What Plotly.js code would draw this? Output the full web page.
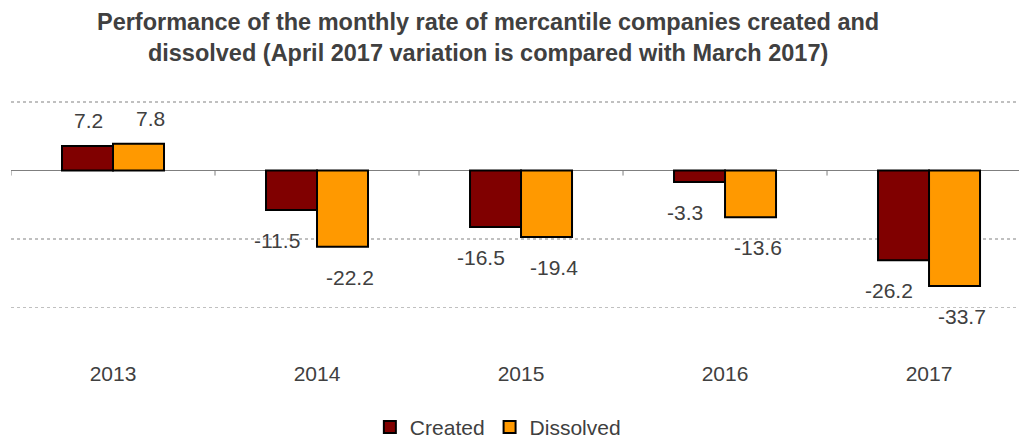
<!DOCTYPE html>
<html>
<head>
<meta charset="utf-8">
<script src="https://cdn.plot.ly/plotly-3.0.1.min.js"></script>
<style>html,body{margin:0;padding:0;background:#fff;}#chart{width:1019px;height:439px;}</style>
</head>
<body>
<div id="chart"></div>
<script>
const years = ["2013", "2014", "2015", "2016", "2017"];
const created = [7.2, -11.5, -16.5, -3.3, -26.2];
const dissolved = [7.8, -22.2, -19.4, -13.6, -33.7];
const gridVals = [20, -20, -40];

const FONT = "Liberation Sans, Arial, sans-serif";
const TXT = "#404040";

const traces = [
  {type: "bar", name: "Created", x: years, y: created,
   marker: {color: "#800000", line: {color: "#000", width: 2}}},
  {type: "bar", name: "Dissolved", x: years, y: dissolved,
   marker: {color: "#FF9900", line: {color: "#000", width: 2}}}
];

// label offsets relative to category center (pixels): [positive, negative]
const labelShift = {Created: [-25, -40], Dissolved: [37, 33]};

const annotations = [];
[["Created", created], ["Dissolved", dissolved]].forEach(([name, vals]) => {
  vals.forEach((v, i) => {
    annotations.push({
      x: i, y: v, xref: "x", yref: "y",
      text: v.toFixed(1), showarrow: false,
      xshift: v >= 0 ? labelShift[name][0] : labelShift[name][1],
      yshift: v >= 0 ? 12 : -17,
      yanchor: v >= 0 ? "bottom" : "top",
      font: {family: FONT, size: 21, color: TXT}
    });
  });
});

const shapes = [];
for (let i = 0; i <= years.length; i++) {
  shapes.push({type: "line", xref: "x", yref: "y", x0: i - 0.5, x1: i - 0.5,
    ysizemode: "pixel", yanchor: 0, y0: 0, y1: -5,
    line: {color: "#7f7f7f", width: 1}});
}

const layout = {
  width: 1019, height: 439,
  margin: {l: 11, r: 0, t: 100, b: 80},
  paper_bgcolor: "#fff", plot_bgcolor: "#fff",
  font: {family: FONT, size: 21, color: TXT},
  title: {text: "<b>Performance of the monthly rate of mercantile companies created and<br>dissolved (April 2017 variation is compared with March 2017)</b>",
    x: 0.479, xanchor: "center", yref: "paper", y: 1, yanchor: "bottom",
    pad: {b: 70}, automargin: false,
    font: {family: FONT, size: 23.5, color: TXT}},
  barmode: "group", bargap: 0.5, bargroupgap: 0,
  xaxis: {type: "category", range: [-0.5, 4.441], showgrid: false, zeroline: false,
    showline: false, ticks: "", tickfont: {family: FONT, size: 21, color: TXT}, fixedrange: true},
  yaxis: {range: [-55, 20.6], tickvals: gridVals, showticklabels: false,
    showgrid: true, gridcolor: "#c0c0c0", griddash: "dot", gridwidth: 1.5,
    zeroline: true, zerolinecolor: "#7f7f7f", zerolinewidth: 1, showline: false, fixedrange: true},
  legend: {orientation: "h", x: 0.483, xanchor: "center", yref: "container", y: 0.073, yanchor: "top",
    font: {family: FONT, size: 21, color: TXT}, itemwidth: 30, tracegroupgap: 0},
  showlegend: true,
  annotations: annotations,
  shapes: shapes
};

Plotly.newPlot("chart", traces, layout, {displayModeBar: false, staticPlot: true});
</script>
</body>
</html>
